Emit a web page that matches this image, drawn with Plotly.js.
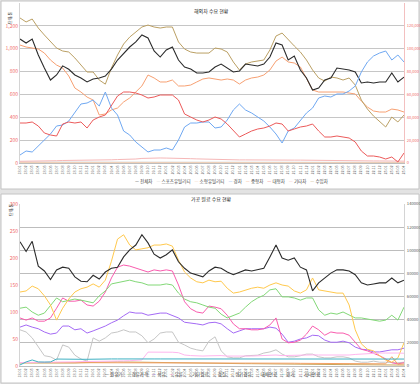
<!DOCTYPE html>
<html><head><meta charset="utf-8">
<script src="https://cdn.plot.ly/plotly-3.0.1.min.js"></script>
<style>html,body{margin:0;padding:0;background:#e3e3e3}#c{width:420px;height:384px}</style>
</head><body><div id="c"></div>
<script>
const xLabels = ['18.01','18.02','18.03','18.04','18.05','18.06','18.07','18.08','18.09','18.10','18.11','18.12',
'19.01','19.02','19.03','19.04','19.05','19.06','19.07','19.08','19.09','19.10','19.11','19.12',
'20.01','20.02','20.03','20.04','20.05','20.06','20.07','20.08','20.09','20.10','20.11','20.12',
'21.01','21.02','21.03','21.04','21.05','21.06','21.07','21.08','21.09','21.10','21.11','21.12',
'22.01','22.02','22.03','22.04','22.05','22.06','22.07','22.08','22.09','22.10','22.11','22.12',
'23.01','23.02','23.03','23.04'];

// ---- top chart (left axis) ----
const topBlack = [1085,1050,1085,945,831,726,770,850,820,770,744,709,735,744,761,822,901,962,1015,1059,
1120,1094,980,927,989,1015,901,840,822,787,787,796,840,866,831,796,805,866,857,849,
866,927,1050,1032,901,936,814,744,639,656,726,744,831,822,814,796,700,709,700,709,709,787,709,752];
const topTan = [1269,1234,1260,1181,1120,1067,1006,980,971,919,857,796,796,726,690,831,945,1041,1102,1146,
1190,1207,1190,1181,1190,1190,1059,997,971,962,962,962,1006,997,971,884,814,866,884,892,
901,989,1111,1137,1076,1024,971,901,814,744,717,752,744,726,744,682,551,472,411,359,315,402,359,420];
const topOrange = [1032,1015,1006,997,962,901,857,831,761,656,621,577,551,420,429,464,481,534,569,621,
674,770,744,709,709,726,674,674,682,709,735,744,735,726,735,726,691,726,744,752,
770,814,892,927,884,875,840,744,639,621,621,621,621,621,612,604,542,490,455,446,446,472,464,446];
// ---- top chart (right axis) ----
const topBlue = [7000,10500,9625,14875,21000,25375,32375,33250,36750,43750,51625,52500,55125,49875,62125,48125,42000,28000,24500,18375,
14000,9625,11375,11375,13125,11375,20125,31500,35000,35000,35875,35875,30625,31500,37625,46375,51625,46375,43750,40250,
36750,31500,25375,17500,28000,30625,37625,43750,48125,56875,58625,57750,60375,60375,63000,67375,79625,88375,93625,96250,98000,90125,94500,88375];
const topRed = [35000,35000,35875,32375,26250,24500,23625,34125,35875,35000,35875,30625,37625,40250,42000,49875,58625,62125,62125,61250,
59500,56875,57750,59500,59500,59500,55125,42875,40250,37625,35875,37625,40250,38500,34125,28000,22750,25375,28000,29750,
30625,32375,35000,34125,28000,29750,31500,32375,34125,28000,22750,22750,23625,22750,21875,18375,10500,6125,6125,5250,3500,5250,875,8750];
const topPink = [1500,1500,1750,1750,1750,2000,2000,2200,2200,2400,2400,2600,2600,2600,2800,2800,3000,3000,3200,3500,
4000,4300,4400,4400,4300,4300,4200,4000,3800,3600,3400,3200,3000,2900,2800,2800,2700,2700,2600,2600,
2600,2600,2600,2500,2500,2500,2500,2400,2400,2400,2300,2300,2200,2200,2200,2100,2000,1900,1800,1800,1700,1700,1600,1600];
const topGray = [800,800,850,850,900,900,950,950,1000,1000,1000,1050,1050,1100,1100,1100,1150,1150,1200,1200,
1200,1200,1150,1150,1100,1100,1100,1050,1050,1000,1000,1000,950,950,950,900,900,900,850,850,
850,850,800,800,800,750,750,750,700,700,700,700,650,650,650,600,600,600,550,550,550,500,500,500];
const topBeige = [300,300,320,320,340,340,360,360,380,380,400,400,420,420,440,440,460,460,480,480,
500,500,520,520,540,540,560,560,560,560,560,560,540,540,520,520,500,500,480,480,
460,460,440,440,420,420,400,400,380,380,360,360,340,340,320,320,300,300,280,280,260,260,240,240];
const topNames = ['전체차','스포츠유틸리티','소형유틸리티','경차','중형차','대형차','기타차','수입차'];

// ---- bottom chart (left axis) ----
const botBlack = [230,212,231,185,176,160,178,183,181,165,157,156,168,161,174,181,183,202,215,224,
243,228,207,200,206,215,193,181,172,169,165,176,183,181,174,169,174,178,176,178,
181,202,224,200,196,200,183,178,139,154,163,172,178,178,176,169,154,150,152,154,154,163,154,159];
const botYellow = [137,139,148,143,130,113,85,107,124,137,143,146,152,146,159,194,235,243,224,215,
217,219,224,224,226,222,196,174,163,156,154,159,156,157,144,135,137,141,144,146,
144,150,154,150,148,139,135,141,163,141,139,137,135,135,113,67,41,31,28,19,11,7,15,43];
const botGreen = [107,109,100,94,98,113,126,119,122,124,122,119,117,130,139,152,154,156,159,156,
154,150,150,150,152,150,135,124,119,117,113,109,107,96,89,93,98,109,119,126,
131,141,143,128,128,126,122,126,126,104,94,98,96,100,94,89,89,87,85,83,85,94,85,109];
const botPink = [89,85,89,83,83,89,107,126,120,120,122,113,111,120,137,163,183,187,185,181,
178,174,178,176,178,176,150,119,106,100,98,111,109,106,94,78,69,69,67,67,
69,76,89,50,43,44,48,59,74,67,57,63,61,61,57,43,31,28,24,19,13,6,4,6];
const botPurple = [72,76,72,69,63,59,61,74,74,67,69,61,65,69,74,80,85,93,100,98,
98,94,96,98,98,94,89,81,80,78,76,80,81,78,69,61,65,69,69,69,
69,72,70,59,44,46,50,52,57,56,48,44,44,46,43,35,31,30,26,26,28,30,30,33];
const botGray = [67,63,52,35,19,17,11,39,35,20,13,9,52,46,52,61,63,67,63,63,
56,43,50,61,63,63,44,39,33,30,28,46,54,28,17,15,15,19,20,20,
24,26,30,22,17,17,19,22,22,17,15,15,17,17,15,9,7,7,9,7,7,6,6,7];
// ---- bottom chart (right axis) ----
const botTeal = [900,3500,5200,3500,3400,3500,6000,6100,6000,6000,5800,5800,6000,6000,6100,6100,6100,6200,6200,6200,
6200,6200,6100,6100,6100,6100,6100,6000,6000,6000,6000,6000,6000,6000,6000,6000,6000,6000,6000,6000,
6000,6000,6000,6000,6000,6000,6000,6000,6000,6000,6000,6000,6000,6000,6000,6000,6000,6000,6000,6000,6000,6000,6000,6000];
const botLightPink = [3000,3000,3200,3200,3400,3400,3500,3500,3600,3600,3800,3800,4000,4000,4200,4200,4400,4400,4600,4800,
5200,12000,12100,12000,11800,11900,11500,9500,9000,8600,8600,8800,9200,9000,8600,8400,8400,8600,8600,8800,
9000,9500,9500,9000,9200,9400,9600,9800,9600,9500,9400,9400,9400,9500,9500,10000,10400,10800,11000,11200,11200,11400,11200,11000];
const botOrange = [3000,3000,2800,2800,2600,2600,2600,2600,2700,2700,2700,2700,2800,2800,2800,2900,2900,3000,3000,3000,
3000,3000,2900,2900,2800,2800,2800,2800,2700,2700,2700,2600,2600,2600,2600,2600,2500,2500,2500,2500,
2500,2500,2400,2400,2400,2400,2300,2300,2300,2300,2200,2200,2200,2200,2100,2100,2000,2000,2000,1900,1900,8000,1500,1800];
const botTan = [2600,2600,2400,2200,2000,2000,2000,2200,2400,2600,2800,3000,3200,3400,3500,3600,3600,3500,3400,3400,
3300,3300,3200,3200,3100,3000,3000,2900,2800,2800,2700,2600,2500,2400,2300,2200,2100,2000,2000,1900,
1900,1800,1800,1700,1700,1600,1600,1500,1500,1400,1400,1300,1300,1200,1200,1100,1100,1000,1000,900,900,800,800,800];
const botNames = ['원유가','경유가격','석유','유류','기타원료','경질','생기경유','대체연료','위기','기타연료'];

const FONT = '"Noto Sans CJK KR", "Noto Sans", sans-serif';
function ln(y, color, name, xa, ya, w) {
  return {x: xLabels, y: y, type: 'scatter', mode: 'lines', name: name, xaxis: xa, yaxis: ya,
          line: {color: color, width: w || 1}, showlegend: false, hoverinfo: 'skip'};
}
const topColors = ['#2b2b2b','#cfcfcf','#f2cdb0','#6fa8f2','#f7a072','#ec5a5a','#f6b7b7','#bba064'];
const botColors = ['#2b2b2b','#82d877','#a46af5','#f95cae','#c8a55a','#f4a064','#ffc94d','#c6c6c6','#3fb1c3','#ffb6ee'];

const data = [
  ln(topGray, topColors[1], topNames[1], 'x', 'y2'),
  ln(topBeige, topColors[2], topNames[2], 'x', 'y2'),
  ln(topPink, topColors[6], topNames[6], 'x', 'y2'),
  ln(topBlue, topColors[3], topNames[3], 'x', 'y2'),
  ln(topRed, topColors[5], topNames[5], 'x', 'y2'),
  ln(topOrange, topColors[4], topNames[4], 'x', 'y'),
  ln(topTan, topColors[7], topNames[7], 'x', 'y'),
  ln(topBlack, topColors[0], topNames[0], 'x', 'y', 1.1),

  ln(botTan, botColors[4], botNames[4], 'x2', 'y4'),
  ln(botOrange, botColors[5], botNames[5], 'x2', 'y4'),
  ln(botLightPink, botColors[9], botNames[9], 'x2', 'y4'),
  ln(botTeal, botColors[8], botNames[8], 'x2', 'y4'),
  ln(botGray, botColors[7], botNames[7], 'x2', 'y3'),
  ln(botPurple, botColors[2], botNames[2], 'x2', 'y3'),
  ln(botPink, botColors[3], botNames[3], 'x2', 'y3'),
  ln(botGreen, botColors[1], botNames[1], 'x2', 'y3'),
  ln(botYellow, botColors[6], botNames[6], 'x2', 'y3'),
  ln(botBlack, botColors[0], botNames[0], 'x2', 'y3', 1.1)
];

function legendText(names, colors) {
  return names.map((n, i) => '<span style="color:' + colors[i] + '">—</span> ' + n).join('&nbsp;&nbsp;&nbsp;&nbsp;');
}
const W = 420, H = 384;
const px = v => v / W, py = v => 1 - v / H;
const xDom = [px(20), px(404)];
const tickRed = {size: 5, color: '#f06a6a', family: FONT};
const xAxisBase = {domain: xDom, type: 'category', range: [0, 63], tickangle: -90, tickmode: 'linear', dtick: 1,
  tickfont: {size: 3.6, color: '#555', family: FONT}, showline: true, linecolor: '#bdbdbd', ticks: '', showgrid: false, zeroline: false, fixedrange: true};

const layout = {
  width: W, height: H, margin: {l: 0, r: 0, t: 0, b: 0},
  paper_bgcolor: '#e3e3e3', plot_bgcolor: '#ffffff', showlegend: false,
  font: {family: FONT, size: 5, color: '#333'},
  xaxis: Object.assign({}, xAxisBase, {anchor: 'y'}),
  yaxis: {domain: [py(163), py(3)], anchor: 'x', range: [0, 1400], dtick: 200, tickformat: ',d', tickfont: tickRed,
    gridcolor: '#c6c6c6', gridwidth: 1, showline: true, linecolor: '#d4d4d4', zeroline: false, ticks: ''},
  yaxis2: {overlaying: 'y', anchor: 'x', side: 'right', range: [0, 140000], dtick: 20000, tickformat: ',d',
    tickfont: {size: 4, color: '#f06a6a', family: FONT}, ticklabelstandoff: 1,
    showgrid: false, showline: true, linecolor: '#f3c0c0', zeroline: false, ticks: ''},
  xaxis2: Object.assign({}, xAxisBase, {anchor: 'y3'}),
  yaxis3: {domain: [py(366), py(204)], anchor: 'x2', range: [0, 300], dtick: 50, tickfont: tickRed,
    showgrid: false, showline: true, linecolor: '#d4d4d4', zeroline: false, ticks: ''},
  yaxis4: {overlaying: 'y3', anchor: 'x2', side: 'right', range: [0, 140000], dtick: 20000, tickformat: 'd',
    tickfont: {size: 4.2, color: '#555', family: FONT}, ticklabelstandoff: 1,
    gridcolor: '#bdbdbd', showline: true, linecolor: '#d4d4d4', zeroline: false, ticks: ''},
  shapes: [
    {type: 'rect', xref: 'paper', yref: 'paper', x0: px(1), x1: px(419), y0: py(189), y1: py(1), fillcolor: '#ffffff', line: {color: '#c4c4c4', width: 1}, layer: 'below'},
    {type: 'rect', xref: 'paper', yref: 'paper', x0: px(1), x1: px(419), y0: py(383), y1: py(194), fillcolor: '#ffffff', line: {color: '#c4c4c4', width: 1}, layer: 'below'}
  ],
  annotations: [
    {xref: 'paper', yref: 'paper', x: px(211), y: py(5), text: '해외차 수요 현황', showarrow: false, font: {size: 5, color: '#222'}},
    {xref: 'paper', yref: 'paper', x: px(211), y: py(199), text: '가공 원료 수요 현황', showarrow: false, font: {size: 5, color: '#222'}},
    {xref: 'paper', yref: 'paper', x: px(5), y: py(10), text: '단위:톤', textangle: -90, showarrow: false, font: {size: 4, color: '#333'}},
    {xref: 'paper', yref: 'paper', x: px(6), y: py(210), text: '단위:톤', textangle: -90, showarrow: false, font: {size: 4, color: '#333'}},
    {xref: 'paper', yref: 'paper', x: px(232), y: py(182), text: legendText(topNames, topColors), showarrow: false, font: {size: 4.5, color: '#444'}},
    {xref: 'paper', yref: 'paper', x: px(212), y: py(379.5), text: legendText(botNames, botColors), showarrow: false, font: {size: 4.5, color: '#444'}}
  ]
};
Plotly.newPlot('c', data, layout, {staticPlot: true, displayModeBar: false});
</script></body></html>
